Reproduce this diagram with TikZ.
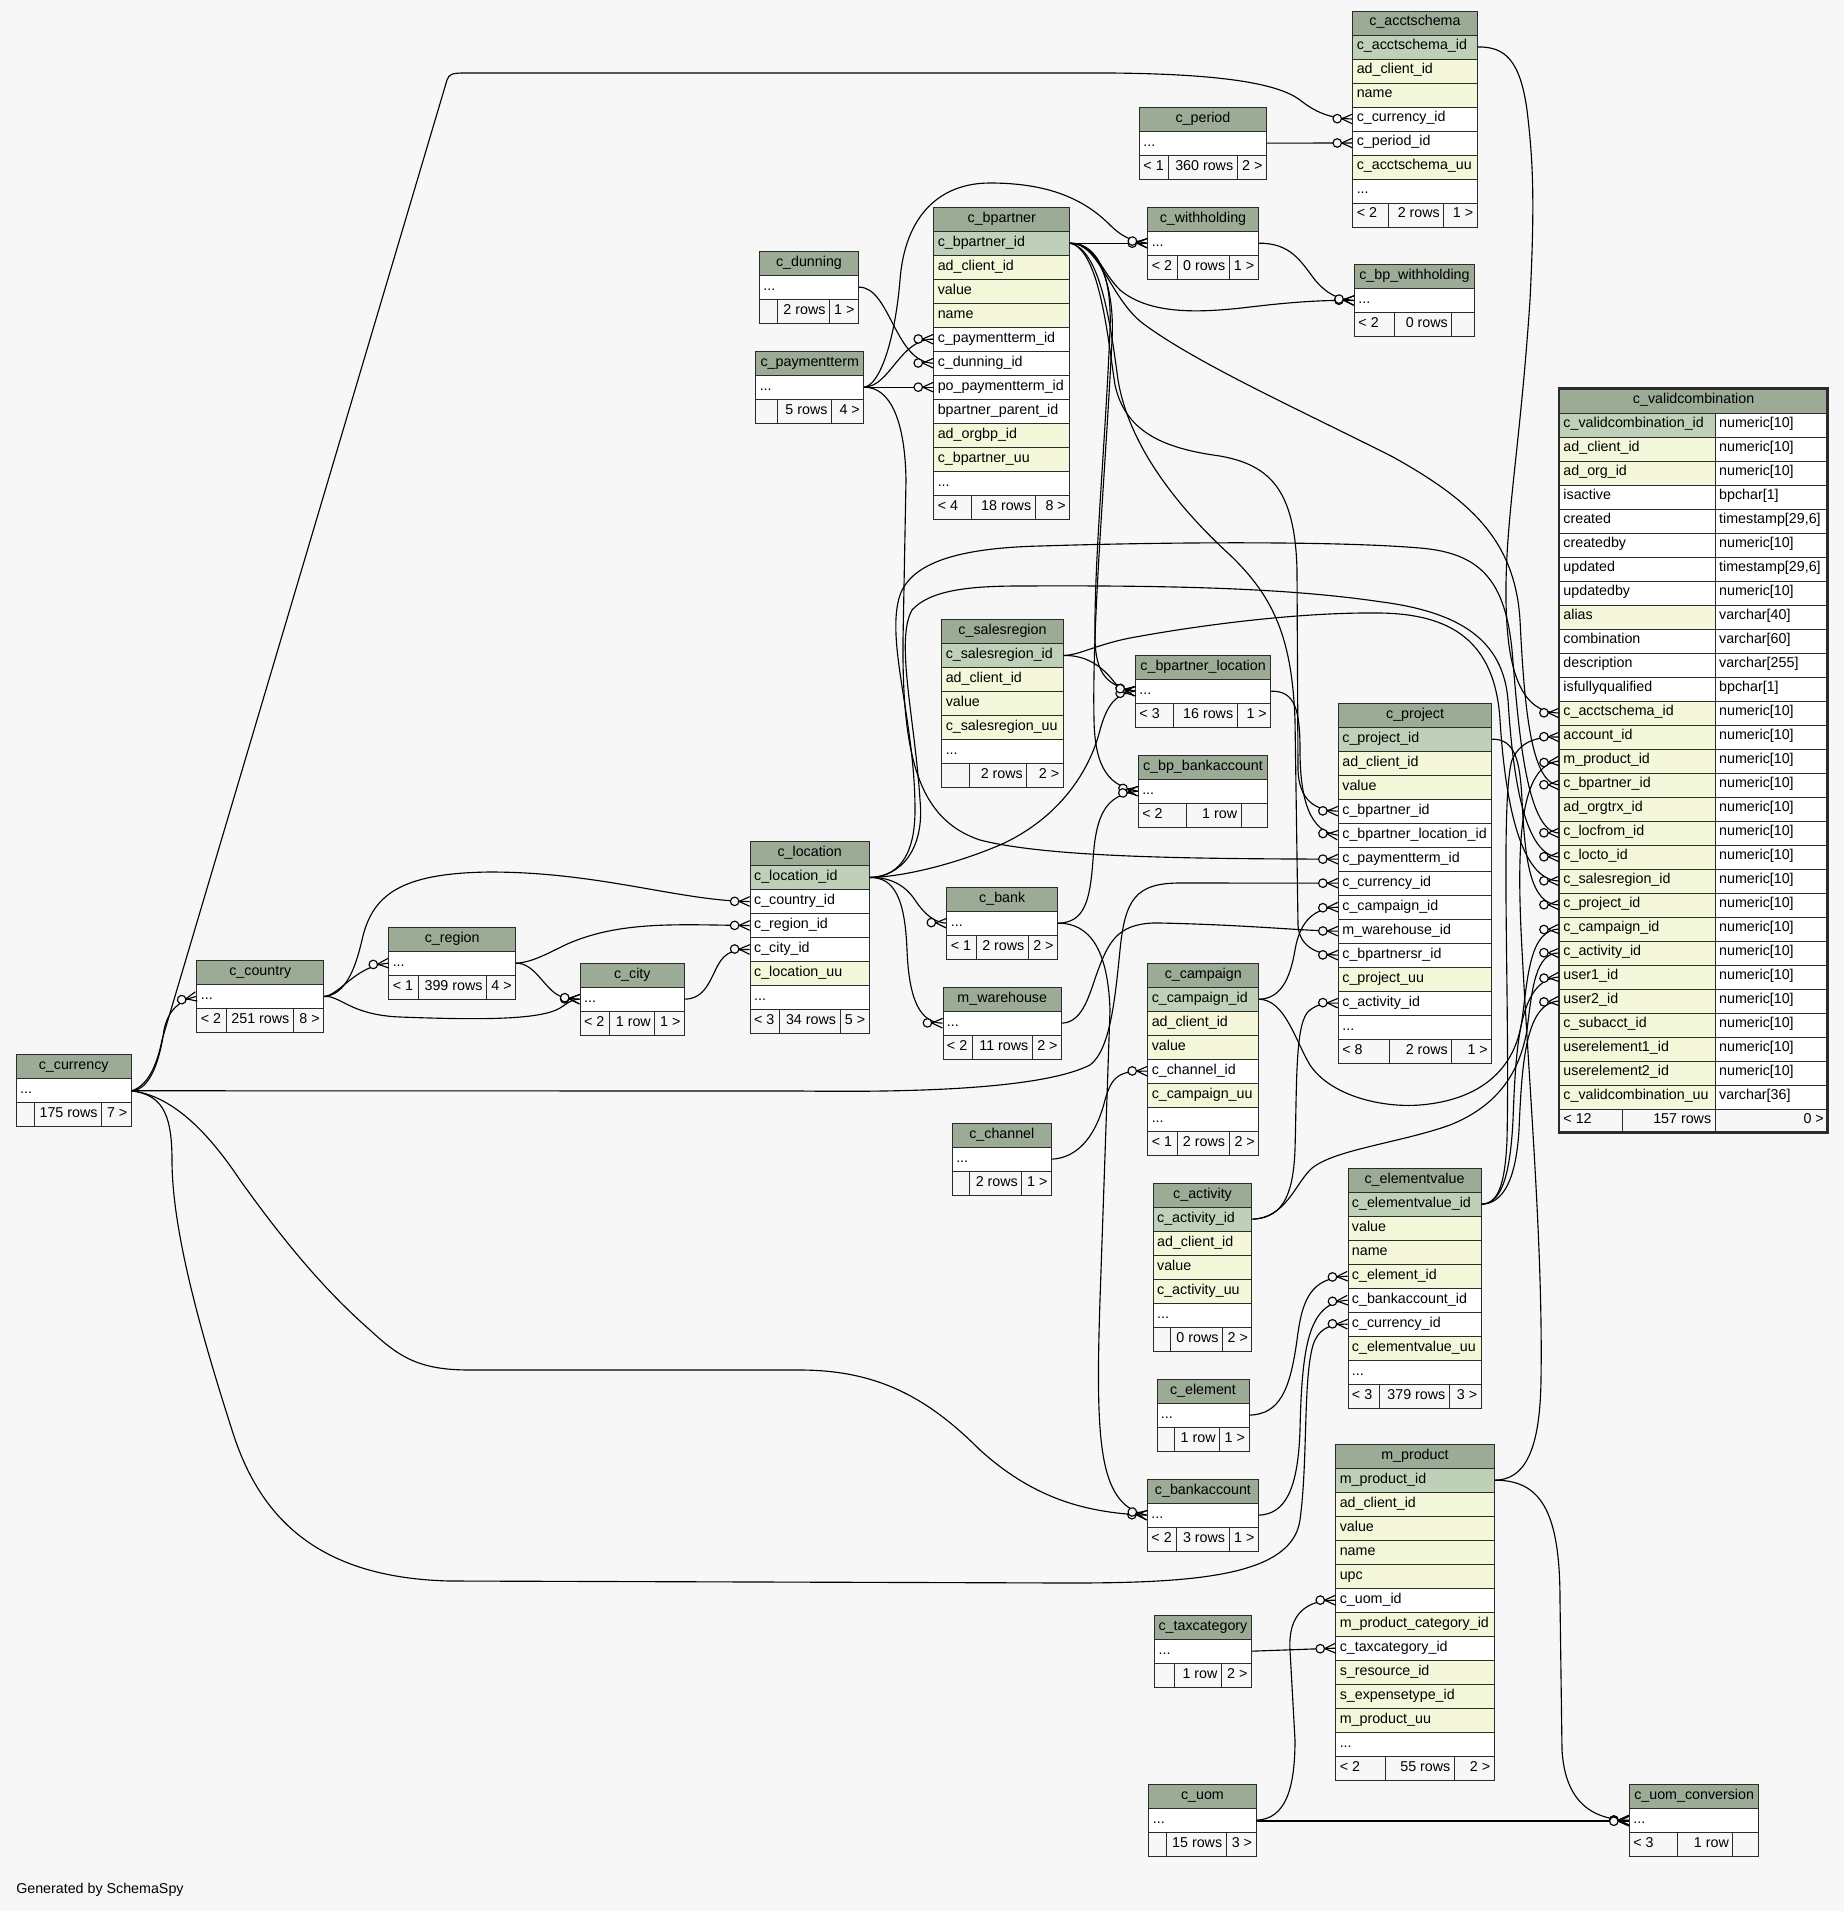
\documentclass[tikz,border=0pt]{standalone}
\usepackage{fontspec}
\setmainfont{Liberation Sans}
\usetikzlibrary{arrows.meta}
\definecolor{bgcol}{HTML}{F7F7F7}
\definecolor{titlec}{HTML}{9BAB96}
\definecolor{keyc}{HTML}{BED1B8}
\definecolor{idxc}{HTML}{F4F7DA}
\definecolor{linec}{HTML}{2B2B2B}
\newcommand{\rowdots}{...}
\pgfdeclarearrow{
  name = crowodot,
  setup code = {
    \pgfarrowssettipend{0pt}
    \pgfarrowssetlineend{0pt}
    \pgfarrowssetbackend{-14.5pt}
    \pgfarrowssetvisualbackend{-14.5pt}
    \pgfarrowshullpoint{0pt}{3.6pt}
    \pgfarrowshullpoint{0pt}{-3.6pt}
    \pgfarrowshullpoint{-14.5pt}{0pt}
  },
  drawing code = {
    \pgfsetdash{}{0pt}
    \pgfpathmoveto{\pgfqpoint{0pt}{3.6pt}}
    \pgfpathlineto{\pgfqpoint{-8pt}{0pt}}
    \pgfpathlineto{\pgfqpoint{0pt}{-3.6pt}}
    \pgfusepathqstroke
    \pgfpathcircle{\pgfqpoint{-11.3pt}{0pt}}{3.2pt}
    \pgfsetfillcolor{bgcol}
    \pgfusepathqfillstroke
  }
}
\tikzset{
  cell/.style={draw=linec, line width=0.7pt, rectangle, anchor=north west, minimum height=18pt, inner xsep=3pt, inner ysep=0pt, text height=7.5pt, text depth=3pt},
  fk/.style={draw=black, line width=0.85pt, -{crowodot}},
}
% table: id, x, top, width, title, rows
\newcommand{\dbt}[6]{%
  \pgfmathsetmacro\tw{#4*0.75-6}%
  \node[cell, fill=titlec] (#1-t) at (#2,#3) {\makebox[\tw pt][c]{#5}};
  \foreach \rc/\rt [count=\i] in {#6} {
    \node[cell, fill=\rc] (#1-\i) at (#2,#3+24*\i) {\makebox[\tw pt][l]{\rt}};
  }
}
% footer: id, x, y, right, d1, d2, L, M, R
\newcommand{\dbf}[9]{%
  \pgfmathsetmacro\wfa{(#5-#2)*0.75-6}%
  \pgfmathsetmacro\wfb{(#6-#5)*0.75-6}%
  \pgfmathsetmacro\wfc{(#4-#6)*0.75-6}%
  \node[cell, fill=bgcol] (#1-fl) at (#2,#3) {\makebox[\wfa pt][l]{#7}};
  \node[cell, fill=bgcol] (#1-fm) at (#5,#3) {\makebox[\wfb pt][r]{#8}};
  \node[cell, fill=bgcol] (#1-fr) at (#6,#3) {\makebox[\wfc pt][r]{#9}};
}
\begin{document}
\begin{tikzpicture}[x=0.75pt, y=-0.75pt, font=\fontsize{10.7pt}{12.8pt}\selectfont]
\path[use as bounding box, fill=bgcol] (0,0) rectangle (1844,1911);

% ---------- tables ----------
\dbt{acs}{1352.3}{10.5}{124.4}{c\_acctschema}{keyc/c\_acctschema\_id,idxc/ad\_client\_id,idxc/name,white/c\_currency\_id,white/c\_period\_id,idxc/c\_acctschema\_uu,white/\rowdots}
\dbf{acs}{1352.3}{202.5}{1476.7}{1388.3}{1443.3}{< 2}{2 rows}{1 >}

\dbt{per}{1139}{106.7}{127}{c\_period}{white/\rowdots}
\dbf{per}{1139}{154.7}{1266}{1168.3}{1236.7}{< 1}{360 rows}{2 >}

\dbt{wh}{1147.3}{206.7}{110.4}{c\_withholding}{white/\rowdots}
\dbf{wh}{1147.3}{254.7}{1257.7}{1176.7}{1228.7}{< 2}{0 rows}{1 >}

\dbt{bpw}{1354}{264}{120}{c\_bp\_withholding}{white/\rowdots}
\dbf{bpw}{1354}{312}{1474}{1393.7}{1451.3}{< 2}{0 rows}{}

\dbt{bp}{933.3}{206.7}{136}{c\_bpartner}{keyc/c\_bpartner\_id,idxc/ad\_client\_id,idxc/value,idxc/name,white/c\_paymentterm\_id,white/c\_dunning\_id,white/po\_paymentterm\_id,white/bpartner\_parent\_id,idxc/ad\_orgbp\_id,idxc/c\_bpartner\_uu,white/\rowdots}
\dbf{bp}{933.3}{494.7}{1069.3}{970.7}{1034.7}{< 4}{18 rows}{8 >}

\dbt{dun}{759}{250.7}{99}{c\_dunning}{white/\rowdots}
\dbf{dun}{759}{298.7}{858}{776.7}{829}{}{2 rows}{1 >}

\dbt{pt}{755.3}{350.7}{108}{c\_paymentterm}{white/\rowdots}
\dbf{pt}{755.3}{398.7}{863.3}{776.7}{831}{}{5 rows}{4 >}

\dbt{cur}{15.7}{1054.3}{115.1}{c\_currency}{white/\rowdots}
\dbf{cur}{15.7}{1102.3}{130.8}{33.7}{101}{}{175 rows}{7 >}

\dbt{cty}{196.4}{960}{126.8}{c\_country}{white/\rowdots}
\dbf{cty}{196.4}{1008}{323.2}{225.6}{292.9}{< 2}{251 rows}{8 >}

\dbt{reg}{388.3}{926.7}{126.9}{c\_region}{white/\rowdots}
\dbf{reg}{388.3}{974.7}{515.2}{418}{486}{< 1}{399 rows}{4 >}

\dbt{city}{579.7}{962.7}{104.3}{c\_city}{white/\rowdots}
\dbf{city}{579.7}{1010.7}{684}{608.9}{654.3}{< 2}{1 row}{1 >}

\dbt{loc}{749.7}{841}{119}{c\_location}{keyc/c\_location\_id,white/c\_country\_id,white/c\_region\_id,white/c\_city\_id,idxc/c\_location\_uu,white/\rowdots}
\dbf{loc}{749.7}{1009}{868.7}{779}{839.5}{< 3}{34 rows}{5 >}

\dbt{sr}{941.3}{619}{121.4}{c\_salesregion}{keyc/c\_salesregion\_id,idxc/ad\_client\_id,idxc/value,idxc/c\_salesregion\_uu,white/\rowdots}
\dbf{sr}{941.3}{763}{1062.7}{969.4}{1026.3}{}{2 rows}{2 >}

\dbt{bpl}{1135}{654.7}{135.3}{c\_bpartner\_location}{white/\rowdots}
\dbf{bpl}{1135}{702.7}{1270.3}{1172.6}{1236.7}{< 3}{16 rows}{1 >}

\dbt{bpb}{1137.8}{754.7}{129.3}{c\_bp\_bankaccount}{white/\rowdots}
\dbf{bpb}{1137.8}{802.7}{1267.1}{1185.7}{1240.6}{< 2}{1 row}{}

\dbt{prj}{1337.9}{702.7}{153.4}{c\_project}{keyc/c\_project\_id,idxc/ad\_client\_id,idxc/value,white/c\_bpartner\_id,white/c\_bpartner\_location\_id,white/c\_paymentterm\_id,white/c\_currency\_id,white/c\_campaign\_id,white/m\_warehouse\_id,white/c\_bpartnersr\_id,idxc/c\_project\_uu,white/c\_activity\_id,white/\rowdots}
\dbf{prj}{1337.9}{1038.7}{1491.3}{1388.9}{1451.4}{< 8}{2 rows}{1 >}

\dbt{bank}{946.4}{886.7}{110.7}{c\_bank}{white/\rowdots}
\dbf{bank}{946.4}{934.7}{1057.1}{975.7}{1027.9}{< 1}{2 rows}{2 >}

\dbt{mwh}{942.5}{986.7}{118.6}{m\_warehouse}{white/\rowdots}
\dbf{mwh}{942.5}{1034.7}{1061.1}{971.7}{1031.8}{< 2}{11 rows}{2 >}

\dbt{cmp}{1147.3}{962.7}{111}{c\_campaign}{keyc/c\_campaign\_id,idxc/ad\_client\_id,idxc/value,white/c\_channel\_id,idxc/c\_campaign\_uu,white/\rowdots}
\dbf{cmp}{1147.3}{1130.7}{1258.3}{1177.2}{1228.5}{< 1}{2 rows}{2 >}

\dbt{chn}{951.8}{1122.7}{99.1}{c\_channel}{white/\rowdots}
\dbf{chn}{951.8}{1170.7}{1050.9}{969.4}{1021.4}{}{2 rows}{1 >}

\dbt{act}{1152.7}{1182.7}{98.7}{c\_activity}{keyc/c\_activity\_id,idxc/ad\_client\_id,idxc/value,idxc/c\_activity\_uu,white/\rowdots}
\dbf{act}{1152.7}{1326.7}{1251.4}{1169.9}{1222}{}{0 rows}{2 >}

\dbt{ev}{1347.5}{1167.7}{133.2}{c\_elementvalue}{keyc/c\_elementvalue\_id,idxc/value,idxc/name,idxc/c\_element\_id,white/c\_bankaccount\_id,white/c\_currency\_id,idxc/c\_elementvalue\_uu,white/\rowdots}
\dbf{ev}{1347.5}{1383.7}{1480.7}{1378.9}{1448.9}{< 3}{379 rows}{3 >}

\dbt{el}{1156.5}{1378.7}{92}{c\_element}{white/\rowdots}
\dbf{el}{1156.5}{1426.7}{1248.5}{1174}{1219.1}{}{1 row}{1 >}

\dbt{bka}{1147}{1478.7}{111}{c\_bankaccount}{white/\rowdots}
\dbf{bka}{1147}{1526.7}{1258}{1176.4}{1228.6}{< 2}{3 rows}{1 >}

\dbt{mp}{1335.3}{1443.7}{158.4}{m\_product}{keyc/m\_product\_id,idxc/ad\_client\_id,idxc/value,idxc/name,idxc/upc,white/c\_uom\_id,idxc/m\_product\_category\_id,white/c\_taxcategory\_id,idxc/s\_resource\_id,idxc/s\_expensetype\_id,idxc/m\_product\_uu,white/\rowdots}
\dbf{mp}{1335.3}{1755.7}{1493.7}{1384.6}{1453.9}{< 2}{55 rows}{2 >}

\dbt{tax}{1154.1}{1614.7}{96.8}{c\_taxcategory}{white/\rowdots}
\dbf{tax}{1154.1}{1662.7}{1250.9}{1174}{1221}{}{1 row}{2 >}

\dbt{uom}{1148.4}{1783.7}{107.2}{c\_uom}{white/\rowdots}
\dbf{uom}{1148.4}{1831.7}{1255.6}{1165.9}{1225.7}{}{15 rows}{3 >}

\dbt{uomc}{1628.9}{1783.7}{129.5}{c\_uom\_conversion}{white/\rowdots}
\dbf{uomc}{1628.9}{1831.7}{1758.4}{1676.8}{1732.4}{< 3}{1 row}{}

% c_validcombination (two columns)
\pgfmathsetmacro\twt{268.3*0.75-6}
\pgfmathsetmacro\twa{155.7*0.75-6}
\pgfmathsetmacro\twb{112.6*0.75-6}
\node[cell, fill=titlec] (vc-t) at (1559,388.5) {\makebox[\twt pt][c]{c\_validcombination}};
\foreach \rc/\rn/\ry [count=\i] in {keyc/c\_validcombination\_id/numeric[10],idxc/ad\_client\_id/numeric[10],idxc/ad\_org\_id/numeric[10],white/isactive/bpchar[1],white/created/{timestamp[29,6]},white/createdby/numeric[10],white/updated/{timestamp[29,6]},white/updatedby/numeric[10],idxc/alias/varchar[40],white/combination/varchar[60],white/description/varchar[255],white/isfullyqualified/bpchar[1],idxc/c\_acctschema\_id/numeric[10],idxc/account\_id/numeric[10],idxc/m\_product\_id/numeric[10],idxc/c\_bpartner\_id/numeric[10],idxc/ad\_orgtrx\_id/numeric[10],idxc/c\_locfrom\_id/numeric[10],idxc/c\_locto\_id/numeric[10],idxc/c\_salesregion\_id/numeric[10],idxc/c\_project\_id/numeric[10],idxc/c\_campaign\_id/numeric[10],idxc/c\_activity\_id/numeric[10],idxc/user1\_id/numeric[10],idxc/user2\_id/numeric[10],idxc/c\_subacct\_id/numeric[10],idxc/userelement1\_id/numeric[10],idxc/userelement2\_id/numeric[10],idxc/c\_validcombination\_uu/varchar[36]} {
  \node[cell, fill=\rc] (vc-\i) at (1559,388.5+24*\i) {\makebox[\twa pt][l]{\rn}};
  \node[cell, fill=white] (vc-\i-ty) at (1714.7,388.5+24*\i) {\makebox[\twb pt][l]{\ry}};
}
\dbf{vc}{1559}{1108.5}{1827.3}{1622.3}{1714.7}{< 12}{157 rows}{0 >}
\draw[linec, line width=2pt] (1559,388.5) rectangle (1827.3,1132.5);

\node[anchor=west, inner sep=0pt] (gen) at (16,1890) {Generated by SchemaSpy};

% ---------- relationships ----------
% c_currency
\draw[fk] (cur-1.east) .. controls (150,1085) and (158,1060) .. (162,1040) -- (447,80) .. controls (449,74) and (452,73) .. (465,73) -- (1110,73) .. controls (1230,74) and (1280,85) .. (1300,100) .. controls (1315,112) and (1330,118.5) .. (acs-4.west);
\draw[fk] (cur-1.east) .. controls (150,1090) and (160,1060) .. (164,1030) .. controls (168,1010) and (180,1000) .. (cty-1.west);
\draw[fk] (cur-1.east) -- (800,1091) .. controls (950,1093) and (1050,1085) .. (1090,1065) .. controls (1110,1050) and (1115,1000) .. (1120,950) .. controls (1125,900) and (1135,883) .. (1180,883) -- (prj-7.west);
\draw[fk] (cur-1.east) .. controls (165,1095) and (200,1120) .. (240,1180) .. controls (290,1250) and (330,1295) .. (370,1330) .. controls (400,1358) and (420,1370) .. (470,1370) -- (800,1370) .. controls (880,1370) and (930,1400) .. (980,1450) .. controls (1030,1495) and (1080,1513) .. (bka-1.west);
\draw[fk] (cur-1.east) .. controls (160,1095) and (172,1110) .. (172,1160) .. controls (172,1230) and (200,1330) .. (232,1430) .. controls (260,1520) and (320,1578) .. (450,1581) -- (1070,1583) .. controls (1200,1583) and (1292,1575) .. (1300,1520) .. controls (1308,1460) and (1303,1380) .. (1313,1345) .. controls (1318,1330) and (1328,1323.7) .. (ev-6.west);
% c_period, c_acctschema
\draw[fk] (per-1.east) -- (acs-5.west);
\draw[fk] (acs-1.east) .. controls (1505,46.5) and (1520,60) .. (1527,110) .. controls (1533,160) and (1535,200) .. (1530,300) .. controls (1520,450) and (1505,520) .. (1506,600) .. controls (1507,680) and (1525,712.5) .. (vc-13.west);
% c_bpartner
\draw[fk] (bp-1.east) -- (wh-1.west);
\draw[fk] (bp-1.east) .. controls (1095,243) and (1100,270) .. (1120,290) .. controls (1150,315) and (1200,313) .. (1250,307) .. controls (1300,301) and (1330,300) .. (bpw-1.west);
\draw[fk] (bp-1.east) .. controls (1100,243) and (1110,300) .. (1145,325) .. controls (1200,365) and (1300,410) .. (1393,457) .. controls (1470,500) and (1515,540) .. (1520,620) .. controls (1524,700) and (1530,784.5) .. (vc-16.west);
\draw[fk] (bp-1.east) .. controls (1100,250) and (1108,340) .. (1115,385) .. controls (1125,430) and (1160,448) .. (1220,456) .. controls (1270,465) and (1295,490) .. (1297,570) -- (1298,770) .. controls (1299,800) and (1315,810.7) .. (prj-4.west);
\draw[fk] (bp-1.east) .. controls (1100,250) and (1110,320) .. (1118,380) .. controls (1128,440) and (1170,500) .. (1230,555) .. controls (1275,598) and (1292,640) .. (1295,720) -- (1298,925) .. controls (1299,945) and (1315,954.7) .. (prj-10.west);
\draw[fk] (bp-1.east) .. controls (1100,243) and (1112,280) .. (1110,330) .. controls (1105,450) and (1094,560) .. (1095,640) .. controls (1096,675) and (1108,686) .. (bpl-1.west);
\draw[fk] (bp-1.east) .. controls (1100,243) and (1115,290) .. (1112,340) .. controls (1105,480) and (1092,620) .. (1094,720) .. controls (1095,770) and (1110,786) .. (bpb-1.west);
% c_paymentterm, c_dunning
\draw[fk] (pt-1.east) .. controls (880,385) and (895,340) .. (900,280) .. controls (905,215) and (940,183) .. (990,183) .. controls (1050,183) and (1085,200) .. (1110,225) .. controls (1122,237) and (1132,241) .. (wh-1.west);
\draw[fk] (pt-1.east) .. controls (890,386.7) and (900,338.7) .. (bp-5.west);
\draw[fk] (pt-1.east) -- (bp-7.west);
\draw[fk] (pt-1.east) .. controls (890,387) and (905,420) .. (906,480) -- (903,640) .. controls (902,760) and (920,820) .. (980,840) .. controls (1050,858) and (1200,858.7) .. (prj-6.west);
\draw[fk] (dun-1.east) .. controls (890,286.7) and (895,362.7) .. (bp-6.west);
% c_withholding
\draw[fk] (wh-1.east) .. controls (1290,243) and (1300,260) .. (1315,280) .. controls (1328,295) and (1338,299) .. (bpw-1.west);
% c_location
\draw[fk] (loc-1.east) .. controls (895,877) and (915,860) .. (915,810) .. controls (915,720) and (885,640) .. (900,595) .. controls (912,562) and (960,548) .. (1040,546) .. controls (1200,541) and (1350,542) .. (1420,548) .. controls (1480,553) and (1505,580) .. (1512,650) .. controls (1518,720) and (1525,832.5) .. (vc-18.west);
\draw[fk] (loc-1.east) .. controls (900,877) and (925,850) .. (920,800) .. controls (915,720) and (895,640) .. (912,610) .. controls (930,590) and (970,586) .. (1020,586) .. controls (1200,585) and (1300,590) .. (1380,601.7) .. controls (1460,612) and (1503,640) .. (1508,700) .. controls (1513,780) and (1525,856.5) .. (vc-19.west);
\draw[fk] (loc-1.east) .. controls (900,877) and (950,866) .. (1000,845) .. controls (1060,818) and (1090,770) .. (1100,730) .. controls (1107,705) and (1115,694) .. (bpl-1.west);
\draw[fk] (loc-1.east) .. controls (890,877) and (905,885) .. (915,900) .. controls (925,915) and (935,922.7) .. (bank-1.west);
\draw[fk] (loc-1.east) .. controls (895,877) and (905,900) .. (907,950) .. controls (909,1000) and (920,1022.7) .. (mwh-1.west);
% c_country, c_region, c_city
\draw[fk] (cty-1.east) .. controls (345,995) and (355,970) .. (362,940) .. controls (372,895) and (400,873) .. (490,872) .. controls (600,872) and (680,901) .. (loc-2.west);
\draw[fk] (cty-1.east) .. controls (340,995) and (355,966) .. (reg-1.west);
\draw[fk] (cty-1.east) .. controls (340,995) and (350,1015) .. (400,1017) .. controls (480,1020) and (540,1020) .. (560,1008) .. controls (568,1003) and (572,999) .. (city-1.west);
\draw[fk] (reg-1.east) .. controls (530,962.7) and (545,955) .. (565,945) .. controls (620,920) and (680,925) .. (loc-3.west);
\draw[fk] (reg-1.east) .. controls (535,962.7) and (545,990) .. (560,996) .. controls (570,999) and (575,998.7) .. (city-1.west);
\draw[fk] (city-1.east) .. controls (705,998.7) and (710,980) .. (718,965) .. controls (725,952) and (735,949) .. (loc-4.west);
% c_salesregion
\draw[fk] (sr-1.east) .. controls (1090,655) and (1105,670) .. (1115,683) .. controls (1120,689) and (1128,690) .. (bpl-1.west);
\draw[fk] (sr-1.east) .. controls (1080,655) and (1095,645) .. (1130,638) .. controls (1200,625) and (1300,612) .. (1380,613) .. controls (1450,614) and (1495,640) .. (1500,720) .. controls (1505,800) and (1520,880.5) .. (vc-20.west);
% c_bank
\draw[fk] (bank-1.east) .. controls (1085,922.7) and (1090,900) .. (1093,860) .. controls (1096,815) and (1105,795) .. (bpb-1.west);
\draw[fk] (bank-1.east) .. controls (1090,923) and (1108,950) .. (1110,1010) -- (1100,1300) .. controls (1095,1450) and (1100,1505) .. (bka-1.west);
% m_warehouse, c_bpartner_location, c_campaign, c_channel, c_activity
\draw[fk] (mwh-1.east) .. controls (1085,1022) and (1090,990) .. (1100,965) .. controls (1110,940) and (1120,922) .. (1160,923) .. controls (1250,925) and (1300,930.7) .. (prj-9.west);
\draw[fk] (bpl-1.east) .. controls (1295,690.7) and (1300,710) .. (1300,750) .. controls (1300,800) and (1310,832) .. (prj-5.west);
\draw[fk] (cmp-1.east) .. controls (1280,998.7) and (1290,980) .. (1295,950) .. controls (1300,920) and (1315,908) .. (prj-8.west);
\draw[fk] (cmp-1.east) .. controls (1285,1000) and (1295,1040) .. (1310,1065) .. controls (1330,1095) and (1380,1108) .. (1420,1105) .. controls (1480,1100) and (1515,1070) .. (1522,1020) .. controls (1528,975) and (1530,930) .. (vc-22.west);
\draw[fk] (chn-1.east) .. controls (1075,1158) and (1095,1140) .. (1105,1100) .. controls (1112,1075) and (1120,1070.7) .. (cmp-4.west);
\draw[fk] (act-1.east) .. controls (1280,1218) and (1293,1200) .. (1295,1150) .. controls (1297,1080) and (1295,1020) .. (1310,1010) .. controls (1318,1004) and (1325,1002.7) .. (prj-12.west);
\draw[fk] (act-1.east) .. controls (1285,1218) and (1295,1185) .. (1310,1170) .. controls (1330,1150) and (1400,1143) .. (1450,1125) .. controls (1500,1105) and (1520,1070) .. (1527,1030) .. controls (1532,990) and (1535,952.5) .. (vc-23.west);
% c_project
\draw[fk] (prj-1.east) .. controls (1515,739) and (1520,760) .. (1522,800) .. controls (1525,860) and (1530,904.5) .. (vc-21.west);
% c_elementvalue
\draw[fk] (ev-1.east) .. controls (1498,1203.7) and (1505,1185) .. (1507,1140) .. controls (1510,1000) and (1500,800) .. (1512,760) .. controls (1520,742) and (1535,736.5) .. (vc-14.west);
\draw[fk] (ev-1.east) .. controls (1500,1203.7) and (1510,1180) .. (1513,1120) .. controls (1516,1040) and (1520,980) .. (vc-24.west);
\draw[fk] (ev-1.east) .. controls (1503,1203.7) and (1516,1180) .. (1519,1130) .. controls (1522,1060) and (1526,1003) .. (vc-25.west);
% c_element, c_bankaccount
\draw[fk] (el-1.east) .. controls (1280,1414) and (1290,1390) .. (1297,1340) .. controls (1302,1300) and (1310,1278) .. (ev-4.west);
\draw[fk] (bka-1.east) .. controls (1285,1514) and (1298,1490) .. (1300,1430) .. controls (1302,1340) and (1310,1303) .. (ev-5.west);
% m_product
\draw[fk] (mp-1.east) .. controls (1525,1480) and (1540,1450) .. (1541,1380) .. controls (1543,1250) and (1530,1100) .. (1522,950) .. controls (1516,840) and (1520,765) .. (vc-15.west);
\draw[fk] (mp-1.east) .. controls (1540,1480) and (1560,1510) .. (1560,1600) -- (1562,1750) .. controls (1565,1800) and (1590,1819.7) .. (uomc-1.west);
% c_uom, c_taxcategory
\draw[fk] (uom-1.east) -- (uomc-1.west);
\draw[fk] ([yshift=-0.8pt]uom-1.east) -- ([yshift=-0.8pt]uomc-1.west);
\draw[fk] (uom-1.east) .. controls (1285,1819) and (1295,1790) .. (1295,1740) -- (1290,1650) .. controls (1288,1615) and (1305,1600) .. (mp-6.west);
\draw[fk] (tax-1.east) -- (mp-8.west);
\end{tikzpicture}
\end{document}
